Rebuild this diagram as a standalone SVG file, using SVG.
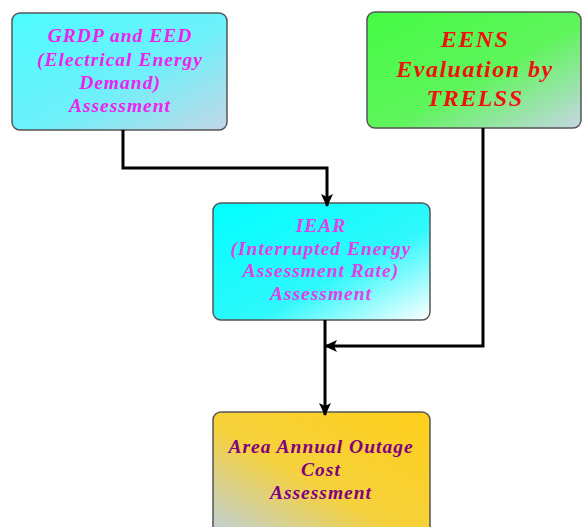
<svg xmlns="http://www.w3.org/2000/svg" width="582" height="527" viewBox="0 0 582 527">
<defs>
<linearGradient id="g1" x1="0" y1="0" x2="1" y2="1"><stop offset="0" stop-color="#4dfdff"/><stop offset="0.55" stop-color="#6ef0fa"/><stop offset="1" stop-color="#c2d6e6"/></linearGradient>
<linearGradient id="g2" x1="0" y1="0" x2="1" y2="1"><stop offset="0" stop-color="#44fb44"/><stop offset="0.55" stop-color="#5ff55c"/><stop offset="1" stop-color="#c6d6e4"/></linearGradient>
<linearGradient id="g3" x1="0" y1="0" x2="1" y2="1"><stop offset="0" stop-color="#00ffff"/><stop offset="0.6" stop-color="#2ff8fb"/><stop offset="1" stop-color="#ffffff"/></linearGradient>
<linearGradient id="g4" x1="1" y1="0" x2="0" y2="1"><stop offset="0" stop-color="#ffcf1a"/><stop offset="0.55" stop-color="#f5d13c"/><stop offset="1" stop-color="#bcd0e0"/></linearGradient>
<marker id="ah" markerWidth="13" markerHeight="12" refX="12" refY="6" orient="auto" markerUnits="userSpaceOnUse"><path d="M0,0 L13,6 L0,12 L3,6 Z" fill="#000"/></marker>
<style>
.box{stroke:#555;stroke-width:1.5}
.t{font-family:"Liberation Serif",serif;font-weight:bold;font-style:italic;text-anchor:middle}
.s{font-size:19.5px;letter-spacing:1px}
.c{fill:none;stroke:#000;stroke-width:3}
</style>
</defs>
<g id="n1"><rect class="box" x="12" y="13" width="215" height="117" rx="8" fill="url(#g1)"/>
<text class="t s" fill="#ee22ee"><tspan x="120" y="42">GRDP and EED</tspan><tspan x="120" y="66">(Electrical Energy</tspan><tspan x="120" y="89">Demand)</tspan><tspan x="120" y="112">Assessment</tspan></text></g>
<g id="n2"><rect class="box" x="367" y="12" width="214" height="116" rx="8" fill="url(#g2)"/>
<text class="t" font-size="24" letter-spacing="1.5" fill="#f01010"><tspan x="475" y="47">EENS</tspan><tspan x="475" y="77">Evaluation by</tspan><tspan x="475" y="106">TRELSS</tspan></text></g>
<g id="n3"><rect class="box" x="213" y="203" width="217" height="117" rx="8" fill="url(#g3)"/>
<text class="t s" fill="#e040e8"><tspan x="321" y="232">IEAR</tspan><tspan x="321" y="255">(Interrupted Energy</tspan><tspan x="321" y="277">Assessment Rate)</tspan><tspan x="321" y="300">Assessment</tspan></text></g>
<g id="n4"><rect class="box" x="213" y="412" width="217" height="125" rx="8" fill="url(#g4)"/>
<text class="t s" fill="#800080"><tspan x="321" y="453">Area Annual Outage</tspan><tspan x="321" y="476">Cost</tspan><tspan x="321" y="499">Assessment</tspan></text></g>
<g id="connectors">
<path class="c" d="M123,130 V168 H327 V206" marker-end="url(#ah)"/>
<path class="c" d="M483,128 V346 H325" marker-end="url(#ah)"/>
<path class="c" d="M325,320 V415" marker-end="url(#ah)"/>
</g>
</svg>
